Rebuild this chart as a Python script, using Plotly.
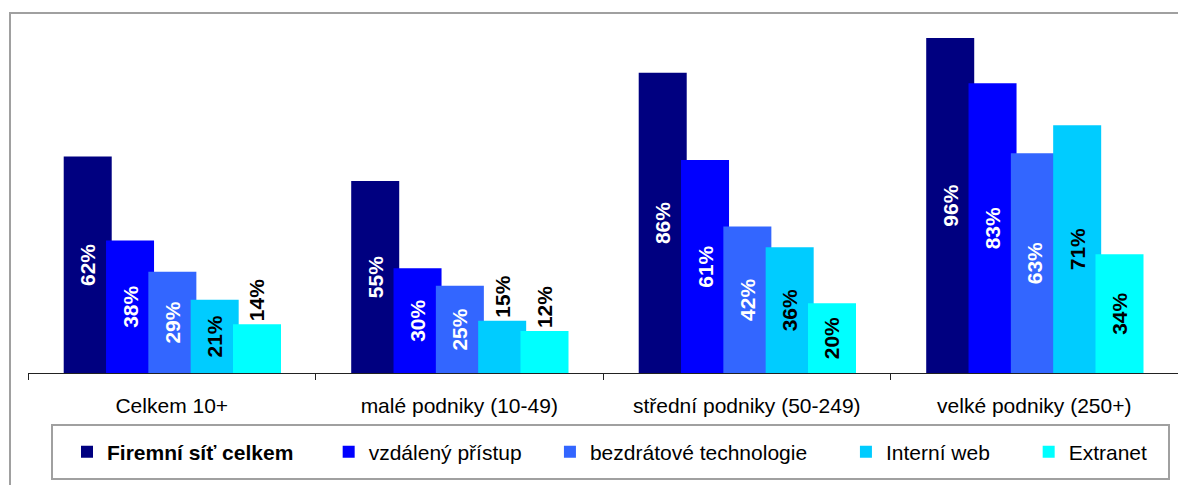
import plotly.graph_objects as go

categories = ["Celkem 10+", "malé podniky (10-49)", "střední podniky (50-249)", "velké podniky (250+)"]
series_names = ["<b>Firemní síť celkem</b>", "vzdálený přístup", "bezdrátové technologie", "Interní web", "Extranet"]
firemni_sit = [62, 55, 86, 96]
vzdaleny_pristup = [38, 30, 61, 83]
bezdratove = [29, 25, 42, 63]
interni_web = [21, 15, 36, 71]
extranet = [14, 12, 20, 34]

series_values = [firemni_sit, vzdaleny_pristup, bezdratove, interni_web, extranet]
colors = ["#000080", "#0000FF", "#3366FF", "#00CCFF", "#00FFFF"]
label_colors = ["white", "white", "white", "black", "black"]
NB = "\u00a0" * 4
legend_pads = [NB + "\u2004", NB, NB + "\u2002", NB + "\u2002", ""]

FONT = "Liberation Sans, Arial, sans-serif"
OFF = 8  # page body margin
W, H = 1186 - OFF, 485 - OFF
L, R, T, B = 28 - OFF, 8, 24 - OFF, 112
pw, ph = W - L - R, H - T - B

def px_x(x):
    return (x - OFF - L) / pw

def px_y(y):
    return (H - B - (y - OFF)) / ph

fig = go.Figure()
bar_w = 0.167
step = 0.1472
first = -0.3758
for i, (name, vals) in enumerate(zip(series_names, series_values)):
    positions = ["inside" if v >= 18 else "outside" for v in vals]
    fig.add_trace(go.Bar(
        x=categories, y=vals,
        name=name + legend_pads[i],
        marker=dict(color=colors[i], line=dict(width=0)),
        width=bar_w, offset=first + step * i,
        text=[f"{v}%" for v in vals],
        textposition=positions,
        textangle=-90,
        insidetextanchor="middle",
        constraintext="none",
        insidetextfont=dict(family=FONT, size=21, color=label_colors[i], weight="bold"),
        outsidetextfont=dict(family=FONT, size=21, color="black", weight="bold"),
        cliponaxis=False,
    ))

fig.update_layout(
    width=W, height=H,
    barmode="overlay",
    plot_bgcolor="white", paper_bgcolor="white",
    margin=dict(l=L, r=R, t=T, b=B, autoexpand=False),
    font=dict(family=FONT, size=21, color="black"),
    xaxis=dict(
        type="category", range=[-0.5, 3.5],
        showline=True, linecolor="#222222", linewidth=1,
        ticks="outside", tickson="boundaries", ticklen=6, tickcolor="#222222",
        showgrid=False, zeroline=False,
        tickfont=dict(family=FONT, size=21, color="black"),
        ticklabelstandoff=14,
    ),
    yaxis=dict(range=[0, 100], visible=False, showgrid=False, zeroline=False),
    showlegend=True,
    legend=dict(
        orientation="h",
        x=px_x(67), xanchor="left",
        y=px_y(452), yanchor="middle",
        bgcolor="rgba(0,0,0,0)", borderwidth=0,
        font=dict(family=FONT, size=21, color="black"),
        traceorder="normal",
        itemclick=False,
    ),
    shapes=[
        dict(type="rect", xref="paper", yref="paper",
             x0=px_x(10), x1=px_x(1195), y0=px_y(495), y1=px_y(13),
             line=dict(color="#a0a0a0", width=2), fillcolor="rgba(0,0,0,0)", layer="below"),
        dict(type="rect", xref="paper", yref="paper",
             x0=px_x(52), x1=px_x(1169), y0=px_y(479), y1=px_y(425),
             line=dict(color="#a0a0a0", width=2), fillcolor="white", layer="below"),
    ],
)

fig.write_html("out.html")
